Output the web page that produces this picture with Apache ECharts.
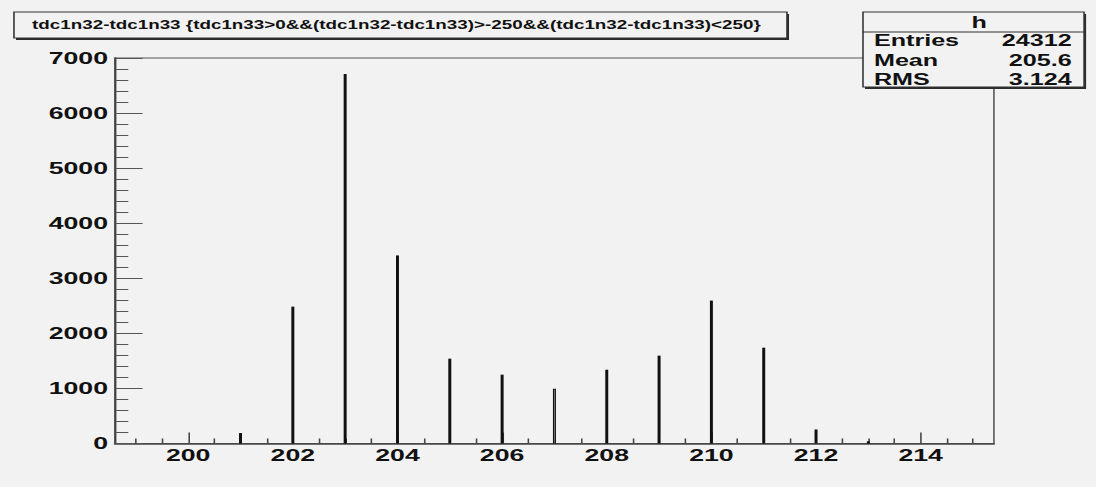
<!DOCTYPE html>
<html>
<head>
<meta charset="utf-8">
<script src="https://cdn.jsdelivr.net/npm/echarts@6/dist/echarts.min.js"></script>
<style>
  html, body { margin: 0; padding: 0; background: #f2f2f2; overflow: hidden; }
  /* The chart is laid out on a narrower canvas and stretched horizontally,
     giving the wide, ROOT-canvas look of the histogram. */
  #chart { width: 698px; height: 487px; transform: scaleX(1.5702); transform-origin: 0 0; }
</style>
</head>
<body>
<div id="chart"></div>
<script>
// Histogram of tdc1n32 - tdc1n33 (one entry per integer bin)
const binCenters = [201, 202, 203, 204, 205, 206, 207, 208, 209, 210, 211, 212, 213];
const counts     = [190, 2485, 6710, 3415, 1540, 1250, 995, 1340, 1595, 2595, 1740, 255, 40];

const histTitle = 'tdc1n32-tdc1n33 {tdc1n33>0&&(tdc1n32-tdc1n33)>-250&&(tdc1n32-tdc1n33)<250}';
const statsName = 'h';
const statsLabels = ['Entries', 'Mean', 'RMS'];
const statsValues = ['24312', '205.6', '3.124'];

const xMajorTicks = [200, 202, 204, 206, 208, 210, 212, 214];
const xMinorTicks = [199, 199.5, 200.5, 201, 201.5, 202.5, 203, 203.5, 204.5, 205, 205.5,
                     206.5, 207, 207.5, 208.5, 209, 209.5, 210.5, 211, 211.5, 212.5, 213,
                     213.5, 214.5, 215];
const xRange = [198.6, 215.4];
const yRange = [0, 7000];

const FONT = '"Liberation Sans", Arial, Helvetica, sans-serif';
const INK = '#111';

const chart = echarts.init(document.getElementById('chart'), null, { renderer: 'svg' });

const barData = binCenters.map((x, i) => {
  const item = { value: [x, counts[i]] };
  if (x === 207) {
    item.itemStyle = { color: '#8a8a8a', borderColor: INK, borderWidth: 0.7 };
  }
  return item;
});

const statsTop = 12, statsLeft = 549.6, statsW = 140.8, statsH = 75, rowY = [40, 60, 79];
const graphics = [
  // title box with drop shadow
  { type: 'rect', z: 100, shape: { x: 10.2, y: 14, width: 492.3, height: 26 }, style: { fill: '#2a2a2a' } },
  { type: 'rect', z: 101, shape: { x: 8.9, y: 12, width: 492.3, height: 26 },
    style: { fill: '#f2f2f2', stroke: '#333', lineWidth: 1 } },
  { type: 'text', z: 102, x: 20.4, y: 25,
    style: { text: histTitle, font: 'bold 12px ' + FONT, fill: INK, verticalAlign: 'middle', align: 'left' } },
  // statistics box
  { type: 'rect', z: 100, shape: { x: statsLeft + 1.3, y: statsTop + 2, width: statsW, height: statsH }, style: { fill: '#2a2a2a' } },
  { type: 'rect', z: 101, shape: { x: statsLeft, y: statsTop, width: statsW, height: statsH },
    style: { fill: '#f2f2f2', stroke: '#333', lineWidth: 1 } },
  { type: 'line', z: 102, shape: { x1: statsLeft, y1: 32, x2: statsLeft + statsW, y2: 32 },
    style: { stroke: '#333', lineWidth: 1 } },
  { type: 'text', z: 102, x: 623.6, y: 22,
    style: { text: statsName, font: 'bold 16px ' + FONT, fill: INK, align: 'center', verticalAlign: 'middle' } }
];
statsLabels.forEach((lab, i) => {
  graphics.push({ type: 'text', z: 102, x: 556.6, y: rowY[i],
    style: { text: lab, font: 'bold 16px ' + FONT, fill: INK, align: 'left', verticalAlign: 'middle' } });
  graphics.push({ type: 'text', z: 102, x: 682.5, y: rowY[i],
    style: { text: statsValues[i], font: 'bold 16px ' + FONT, fill: INK, align: 'right', verticalAlign: 'middle' } });
});

chart.setOption({
  animation: false,
  backgroundColor: '#f2f2f2',
  grid: { left: 73.2, right: 65, top: 58, bottom: 43.5, show: true, borderColor: '#555', borderWidth: 1,
          backgroundColor: 'transparent' },
  xAxis: [
    {
      type: 'value', min: xRange[0], max: xRange[1], position: 'bottom',
      axisLine: { show: true, onZero: false, lineStyle: { color: '#444', width: 1.5 } },
      axisTick: { show: true, inside: true, length: 11, customValues: xMajorTicks, lineStyle: { color: '#444', width: 1 } },
      axisLabel: { show: true, customValues: xMajorTicks, margin: 3, color: INK,
                   fontFamily: FONT, fontWeight: 'bold', fontSize: 17,
                   formatter: v => String(v) },
      splitLine: { show: false }
    },
    {
      type: 'value', min: xRange[0], max: xRange[1], position: 'bottom',
      axisLine: { show: false },
      axisTick: { show: true, inside: true, length: 5, customValues: xMinorTicks, lineStyle: { color: '#444', width: 1 } },
      axisLabel: { show: false },
      splitLine: { show: false }
    }
  ],
  yAxis: {
    type: 'value', min: yRange[0], max: yRange[1], interval: 1000,
    axisLine: { show: true, lineStyle: { color: '#444', width: 1.3 } },
    axisTick: { show: true, inside: true, length: 17.6, lineStyle: { color: '#555', width: 1 } },
    minorTick: { show: true, splitNumber: 5, length: 8.5, lineStyle: { color: '#555', width: 1 } },
    axisLabel: { margin: 4.4, color: INK, fontFamily: FONT, fontWeight: 'bold', fontSize: 17,
                 formatter: v => String(v) },
    splitLine: { show: false }
  },
  series: [{
    type: 'bar', xAxisIndex: 0, barWidth: 1.9, data: barData,
    itemStyle: { color: INK }, z: 5
  }],
  graphic: graphics
});
</script>
</body>
</html>
